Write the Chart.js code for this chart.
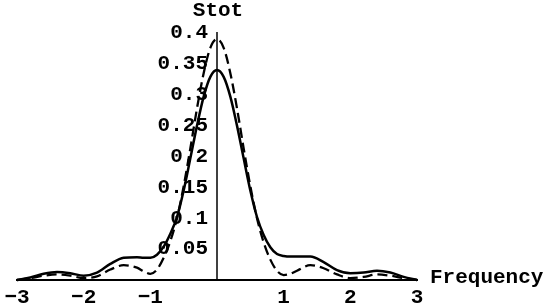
<!DOCTYPE html>
<html>
<head>
<meta charset="utf-8">
<script src="https://cdn.jsdelivr.net/npm/chart.js@4/dist/chart.umd.min.js"></script>
<style>
html,body{margin:0;padding:0;background:#fff;}
#wrap{width:550px;height:308px;position:relative;}
</style>
</head>
<body>
<div id="wrap"><canvas id="c" width="550" height="308"></canvas></div>
<script>
const freq = [-3,-2.8,-2.6,-2.4,-2.2,-2,-1.8,-1.6,-1.4,-1.2,
  -1.1,-1,-0.9,-0.8,-0.7,-0.6,-0.5,-0.4,-0.3,-0.2,-0.1,0,0.1,0.2,0.3,0.4,0.5,0.6,0.7,0.8,0.9,1,1.1,
  1.2,1.4,1.6,1.8,2,2.2,2.4,2.6,2.8,3];
const stotSolid = [0.000,0.004,0.010,0.013,0.011,0.007,0.012,0.026,0.036,0.037,
  0.036,0.036,0.041,0.054,0.075,0.102,0.145,0.197,0.250,0.297,0.329,0.340,0.329,0.297,0.250,0.197,0.145,0.102,0.073,0.053,0.042,0.039,0.038,
  0.038,0.038,0.029,0.016,0.011,0.012,0.015,0.012,0.005,0.000];
const stotDashed = [0.000,0.003,0.007,0.009,0.007,0.003,0.006,0.017,0.024,0.020,
  0.014,0.010,0.017,0.036,0.063,0.100,0.152,0.213,0.278,0.335,0.376,0.390,0.376,0.335,0.278,0.213,0.152,0.100,0.061,0.033,0.015,0.008,0.010,
  0.015,0.024,0.019,0.009,0.003,0.005,0.009,0.007,0.003,0.000];
const xTickValues = [-3,-2,-1,1,2,3];
const xTickLabels = ["\u22123","\u22122","\u22121","1","2","3"];
const yTickValues = [0.05,0.1,0.15,0.2,0.25,0.3,0.35,0.4];
const yTickLabels = ["0.05","0.1","0.15","0.2","0.25","0.3","0.35","0.4"];
const xTitle = "Frequency";
const yTitle = "Stot";

const FONT = 'bold 21px "Liberation Mono", "DejaVu Sans Mono", monospace';

const axesPlugin = {
  id: 'mathAxes',
  beforeDatasetsDraw(chart) {
    const ctx = chart.ctx;
    const xs = chart.scales.x, ys = chart.scales.y;
    const x0 = xs.getPixelForValue(0);
    const y0 = ys.getPixelForValue(0);
    ctx.save();
    ctx.strokeStyle = '#000';
    ctx.lineWidth = 2;
    ctx.beginPath();
    ctx.moveTo(xs.getPixelForValue(-3) - 1, y0);
    ctx.lineTo(xs.getPixelForValue(3) + 1, y0);
    ctx.stroke();
    ctx.lineWidth = 1.5;
    ctx.beginPath();
    ctx.moveTo(x0, y0);
    ctx.lineTo(x0, ys.getPixelForValue(0.4) - 1);
    ctx.stroke();
    ctx.fillStyle = '#000';
    ctx.font = FONT;
    ctx.textAlign = 'right';
    ctx.textBaseline = 'middle';
    yTickValues.forEach((v, i) => {
      ctx.fillText(yTickLabels[i], x0 - 9, ys.getPixelForValue(v));
    });
    ctx.textAlign = 'center';
    ctx.textBaseline = 'middle';
    xTickValues.forEach((v, i) => {
      ctx.fillText(xTickLabels[i], xs.getPixelForValue(v), y0 + 18);
    });
    ctx.textAlign = 'center';
    ctx.fillText(yTitle, x0 + 1, 11);
    ctx.textAlign = 'left';
    ctx.fillText(xTitle, xs.getPixelForValue(3) + 13, y0 - 2);
    ctx.restore();
  }
};

new Chart(document.getElementById('c'), {
  type: 'line',
  data: {
    labels: freq,
    datasets: [
      {
        data: freq.map((f, i) => ({x: f, y: stotSolid[i]})),
        borderColor: '#000',
        borderWidth: 2.5,
        pointRadius: 0,
        cubicInterpolationMode: 'monotone',
        fill: false
      },
      {
        data: freq.map((f, i) => ({x: f, y: stotDashed[i]})),
        borderColor: '#000',
        borderWidth: 2.3,
        borderDash: [10, 5],
        pointRadius: 0,
        cubicInterpolationMode: 'monotone',
        fill: false
      }
    ]
  },
  options: {
    responsive: false,
    animation: false,
    clip: false,
    events: [],
    layout: { padding: { left: 17, right: 133, top: 33, bottom: 28 } },
    plugins: { legend: { display: false }, tooltip: { enabled: false }, title: { display: false } },
    scales: {
      x: { type: 'linear', min: -3, max: 3, display: false },
      y: { type: 'linear', min: 0, max: 0.4, display: false }
    }
  },
  plugins: [axesPlugin]
});
</script>
</body>
</html>
